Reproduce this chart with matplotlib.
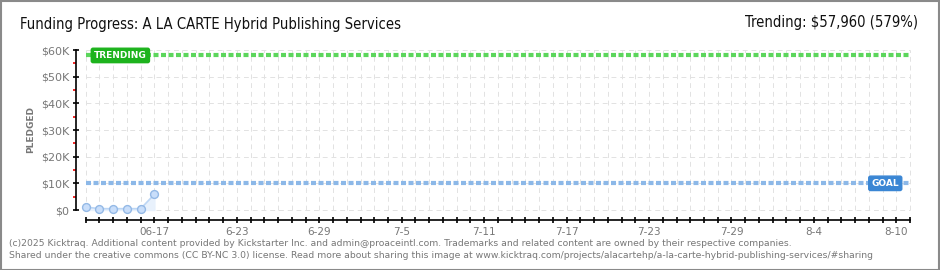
import matplotlib
matplotlib.use("Agg")
import matplotlib.pyplot as plt
from matplotlib.ticker import FixedLocator, MultipleLocator, FuncFormatter
import datetime as dt

# campaign data
start_date = dt.date(2025, 6, 12)
end_date = dt.date(2025, 8, 11)
pledge_dates = ["2025-06-12", "2025-06-13", "2025-06-14", "2025-06-15", "2025-06-16", "2025-06-17"]
pledged = [1100, 500, 500, 500, 500, 5900]
goal = 10000
trending = 57960
tick_labels = ["06-17", "6-23", "6-29", "7-5", "7-11", "7-17", "7-23", "7-29", "8-4", "8-10"]
y_ticks = [0, 10000, 20000, 30000, 40000, 50000, 60000]

def day_index(s):
    d = dt.date.fromisoformat(s)
    return (d - start_date).days

n_days = (end_date - start_date).days
xs = [day_index(s) for s in pledge_dates]

W, H = 940, 270
fig = plt.figure(figsize=(W / 100, H / 100), dpi=100)
fig.patch.set_facecolor("white")

# outer frame
fig.add_artist(plt.Rectangle((0.5 / W, 0.5 / H), 1 - 1.5 / W, 1 - 1.5 / H, transform=fig.transFigure,
                             fill=False, edgecolor="#8a8a8a", linewidth=1.5))

ax_l, ax_r, ax_t, ax_b = 76, 915, 45, 220
ax = fig.add_axes([ax_l / W, 1 - ax_b / H, (ax_r - ax_l) / W, (ax_b - ax_t) / H])
ax.set_facecolor("white")
ax.set_xlim(-0.71, 60.36)
ax.set_ylim(-3750, 61875)

for side in ["top", "right"]:
    ax.spines[side].set_visible(False)
ax.spines["left"].set_bounds(0, 60000)
ax.spines["bottom"].set_bounds(0, n_days)
ax.spines["left"].set_linewidth(1.2)
ax.spines["bottom"].set_linewidth(1.2)

# grid
for d in range(0, n_days + 1):
    ax.plot([d, d], [0, 60000], color="#e2e2e2", lw=0.7, ls=(0, (5, 4)), zorder=0)
for v in range(0, 60001, 10000):
    ax.plot([0, n_days], [v, v], color="#e2e2e2", lw=0.7, ls=(0, (5, 4)), zorder=0)

# ticks
ax.yaxis.set_major_locator(FixedLocator(y_ticks))
ax.yaxis.set_minor_locator(FixedLocator(list(range(5000, 60000, 10000))))
ax.yaxis.set_major_formatter(FuncFormatter(lambda v, p: "$0" if v == 0 else f"${int(v/1000)}K"))
ax.tick_params(axis="y", which="major", direction="inout", length=4, width=1.2, color="black",
               labelsize=8, labelcolor="#777777", pad=3)
ax.tick_params(axis="y", which="minor", direction="out", length=2.5, width=1.2, color="#ee0000")

label_pos = [day_index("2025-06-17") + 6 * i for i in range(len(tick_labels))]
ax.xaxis.set_major_locator(FixedLocator(label_pos))
ax.xaxis.set_major_formatter(FuncFormatter(lambda v, p: tick_labels[label_pos.index(int(round(v)))]))
ax.xaxis.set_minor_locator(MultipleLocator(1))
ax.tick_params(axis="x", which="both", direction="inout", length=4, width=1.2, color="black",
               labelsize=7.5, labelcolor="#777777", pad=3)

fig.text(31 / W, 1 - 130 / H, "PLEDGED", fontsize=6.5, color="#777777", fontweight="bold",
         rotation=90, ha="center", va="center")

# pledged series
ax.fill_between(xs, pledged, 0, color="#e8f1fc", zorder=2)
ax.plot(xs, pledged, color="#bcd6f5", lw=1.2, zorder=3)
ax.scatter(xs, pledged, s=32, facecolor="#c9defa", edgecolor="#94b9e6", linewidth=1, zorder=4)

# trending and goal lines
ax.plot([0, n_days], [trending, trending], color="#5cd65c", lw=3, ls=(0, (1.2, 0.6)), zorder=3)
ax.plot([0, n_days], [goal, goal], color="#8cb8e8", lw=3, ls=(0, (1.2, 0.6)), zorder=3)

def tag(x, y, text, face, ha):
    ax.text(x, y, text, color="white", fontsize=6.5, fontweight="bold", ha=ha, va="center", zorder=6,
            bbox=dict(boxstyle="round,pad=0.3,rounding_size=0.2", facecolor=face, edgecolor=face))

tag(0.6, trending, "TRENDING", "#1db31d", "left")
tag(59.2, goal, "GOAL", "#3a86d4", "right")

# header texts
fig.text(20 / W, 1 - 24 / H, "Funding Progress: A LA CARTE Hybrid Publishing Services",
         fontsize=10.6, color="#111111", va="center", ha="left", fontstretch="condensed")
fig.text(918 / W, 1 - 22 / H, "Trending: $57,960 (579%)", fontsize=10.6, color="#111111",
         va="center", ha="right", fontstretch="condensed")

# footer texts
foot1 = ("(c)2025 Kicktraq. Additional content provided by Kickstarter Inc. and admin@proaceintl.com. "
         "Trademarks and related content are owned by their respective companies.")
foot2 = ("Shared under the creative commons (CC BY-NC 3.0) license. Read more about sharing this image at "
         "www.kicktraq.com/projects/alacartehp/a-la-carte-hybrid-publishing-services/#sharing")
fig.text(9 / W, 1 - 243 / H, foot1, fontsize=6.7, color="#777777", va="center", ha="left")
fig.text(9 / W, 1 - 256 / H, foot2, fontsize=6.7, color="#777777", va="center", ha="left")

fig.savefig("out.png", dpi=100, facecolor="white")
